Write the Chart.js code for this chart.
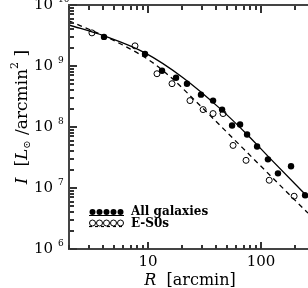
<!DOCTYPE html>
<html><head><meta charset="utf-8">
<script src="https://cdn.jsdelivr.net/npm/chart.js@4/dist/chart.umd.min.js"></script>
<style>html,body{margin:0;padding:0;background:#fff;overflow:hidden}</style>
</head><body><canvas id="c" width="313" height="288"></canvas>
<script>
// ---- data ----
const allR = [4.08, 9.4, 13.3, 17.7, 22.1, 29.4, 37.6, 45.2, 55.4, 65.2, 75.2, 92.2, 115, 141, 184, 245];
const allI = [3.0e9, 1.58e9, 8.36e8, 6.43e8, 5.13e8, 3.39e8, 2.71e8, 1.93e8, 1.06e8, 1.10e8, 7.55e7, 4.8e7, 2.95e7, 1.74e7, 2.27e7, 7.6e6];
const esR = [3.19, 7.67, 12.0, 16.3, 23.5, 30.7, 37.6, 46.1, 56.5, 73.6, 118, 196];
const esI = [3.49e9, 2.14e9, 7.47e8, 5.13e8, 2.71e8, 1.93e8, 1.66e8, 1.66e8, 4.99e7, 2.84e7, 1.34e7, 7.33e6];
const fitAllR = [2, 4.08, 9.4, 20.4, 43.4, 75.2, 120, 260];
const fitAllI = [4.71e9, 3.12e9, 1.64e9, 6.43e8, 2.0e8, 7.55e7, 3.06e7, 7.06e6];
const fitEsR = [2, 4.08, 6.93, 10.4, 15.7, 26.1, 39.2, 98, 260];
const fitEsI = [5.48e9, 3.12e9, 1.91e9, 1.22e9, 6.67e8, 2.71e8, 1.28e8, 2.35e7, 3.87e6];
const xTickLabels = [10, 100];
const yTickExps = [6, 7, 8, 9, 10];
const legendLabels = ['All galaxies', 'E-S0s'];
const xRange = [2, 260];
const yRange = [1e6, 1e10];

const pts = (xs, ys) => xs.map((x, i) => ({x, y: ys[i]}));
const SERIF = '"DejaVu Serif", serif';
const isDecade = v => { const l = Math.log10(v); return Math.abs(l - Math.round(l)) < 1e-6; };

function drawRuns(ctx, runs, x, y) {
  let cx = x;
  for (const r of runs) { ctx.font = r.font; ctx.fillText(r.t, cx, y + (r.dy || 0)); cx += ctx.measureText(r.t).width; }
  return cx;
}
function runsWidth(ctx, runs) {
  let w = 0; for (const r of runs) { ctx.font = r.font; w += ctx.measureText(r.t).width; } return w;
}

function drawFrame(chart) {
  const ctx = chart.ctx, sx = chart.scales.x, sy = chart.scales.y, a = chart.chartArea;
  ctx.save();
  ctx.fillStyle = '#444';
  const L = Math.round(a.left), B = Math.round(a.bottom), T = Math.round(a.top), Rr = Math.round(a.right);
  ctx.fillRect(L - 1, T - 1, Rr - L + 1, 2);
  ctx.fillRect(L - 1, B - 1, Rr - L + 1, 2);
  ctx.fillRect(L - 1, T - 1, 2, B - T + 2);
  ctx.fillStyle = '#333';
  for (let d = 1; d <= 1000; d *= 10) for (let k = 1; k <= 9; k++) {
    const v = k * d; if (v < sx.min - 1e-9 || v > sx.max + 1e-9) continue;
    const px = Math.round(sx.getPixelForValue(v)), len = k === 1 ? 7 : 4;
    ctx.fillRect(px - 1, B - len, 2, len);
    ctx.fillRect(px - 1, T + 1, 2, len);
  }
  for (let e = 6; e <= 10; e++) for (let k = 1; k <= 9; k++) {
    const v = k * Math.pow(10, e); if (v > sy.max * 1.0001) continue;
    const py = Math.round(sy.getPixelForValue(v)), len = k === 1 ? 7 : 4;
    ctx.fillRect(L + 1, py - 1, len, 2);
  }
  ctx.restore();
}

const deco = {
  id: 'deco',
  afterDraw(chart) {
    drawFrame(chart);
    const ctx = chart.ctx, sy = chart.scales.y;
    ctx.save();
    ctx.fillStyle = '#000';
    ctx.font = '9px ' + SERIF; ctx.textAlign = 'left'; ctx.textBaseline = 'middle';
    for (const e of yTickExps) {
      const py = sy.getPixelForValue(Math.pow(10, e));
      ctx.fillText(String(e), 58, py - 5);
    }
    ctx.textBaseline = 'alphabetic';
    const f = '17px ' + SERIF, fi = 'italic 17px ' + SERIF;
    const xr = [{t: 'R', font: 'italic 16px ' + SERIF}, {t: '  [arcmin]', font: '16px ' + SERIF}];
    const xw = runsWidth(ctx, xr);
    drawRuns(ctx, xr, 190 - xw / 2, 285);
    const yr = [{t: 'I', font: fi}, {t: '  [', font: f}, {t: 'L', font: fi}, {t: '\u2299', font: '10px ' + SERIF, dy: 3},
      {t: ' /arcmin', font: f}, {t: '2', font: '11px ' + SERIF, dy: -9}, {t: ' ]', font: f}];
    const yw = runsWidth(ctx, yr);
    ctx.save(); ctx.translate(27, 117); ctx.rotate(-Math.PI / 2);
    drawRuns(ctx, yr, -yw / 2, 0);
    ctx.restore();
    const mx = [92.5, 99.5, 106.5, 113.5, 120.5];
    ctx.lineWidth = 1.2; ctx.strokeStyle = '#000';
    ctx.beginPath(); ctx.moveTo(89, 215.5); ctx.lineTo(124, 215.5); ctx.stroke();
    for (const x of mx) { ctx.beginPath(); ctx.arc(x, 212, 3, 0, Math.PI * 2); ctx.fill(); }
    ctx.setLineDash([3, 3]);
    ctx.beginPath(); ctx.moveTo(89, 226.5); ctx.lineTo(124, 226.5); ctx.stroke();
    ctx.setLineDash([]);
    ctx.lineWidth = 1;
    for (const x of mx) { ctx.beginPath(); ctx.arc(x, 223, 3, 0, Math.PI * 2); ctx.fillStyle = '#fff'; ctx.fill(); ctx.stroke(); }
    ctx.fillStyle = '#000';
    ctx.font = 'bold 12px ' + SERIF; ctx.textBaseline = 'middle';
    ctx.fillText(legendLabels[0], 131, 212);
    ctx.fillText(legendLabels[1], 131, 224);
    ctx.restore();
  }
};

new Chart(document.getElementById('c'), {
  type: 'scatter',
  data: {
    datasets: [
      {data: pts(fitAllR, fitAllI), showLine: true, borderColor: '#000', borderWidth: 1.3, pointRadius: 0, cubicInterpolationMode: 'monotone'},
      {data: pts(fitEsR, fitEsI), showLine: true, borderColor: '#000', borderWidth: 1.3, borderDash: [5, 4], pointRadius: 0, cubicInterpolationMode: 'monotone'},
      {data: pts(allR, allI), pointRadius: 3.2, pointBackgroundColor: '#000', pointBorderColor: '#000', pointBorderWidth: 0},
      {data: pts(esR, esI), pointRadius: 3, pointBackgroundColor: '#fff', pointBorderColor: '#000', pointBorderWidth: 1}
    ]
  },
  options: {
    responsive: false, animation: false, devicePixelRatio: 1,
    layout: {padding: {top: 3, right: 0, left: 0, bottom: 0}},
    plugins: {legend: {display: false}, tooltip: {enabled: false}},
    scales: {
      x: {
        type: 'logarithmic', min: xRange[0], max: xRange[1],
        grid: {display: false, drawTicks: false}, border: {display: false},
        afterFit: s => { s.height = 39; s.paddingLeft = 0; s.paddingRight = 0; },
        ticks: {autoSkip: false, maxRotation: 0, padding: 4, color: '#000', font: {family: SERIF, size: 15},
          callback: v => (isDecade(v) && xTickLabels.some(t => Math.abs(t - v) < 1e-6)) ? String(Math.round(v)) : ''}
      },
      y: {
        type: 'logarithmic', min: yRange[0], max: yRange[1],
        grid: {display: false, drawTicks: false}, border: {display: false},
        afterFit: s => { s.width = 69; s.paddingTop = 0; s.paddingBottom = 0; },
        ticks: {autoSkip: false, padding: 16, color: '#000', font: {family: SERIF, size: 15},
          callback: v => isDecade(v) ? '10' : ''}
      }
    }
  },
  plugins: [deco]
});
</script></body></html>
